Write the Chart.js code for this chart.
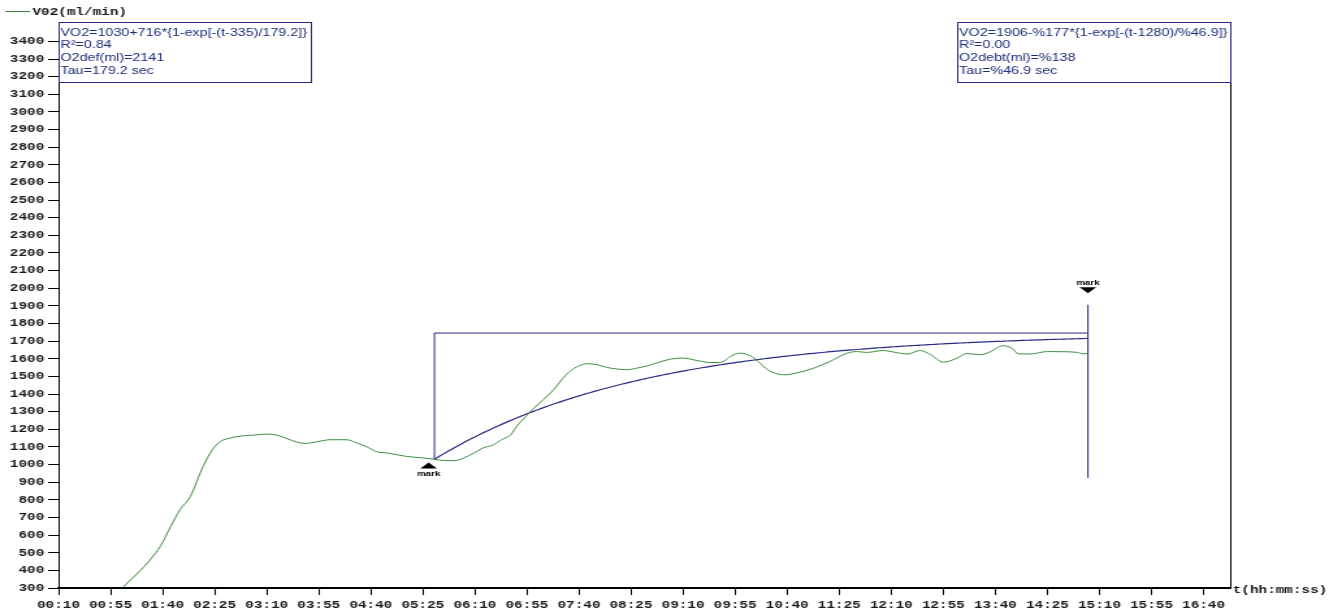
<!DOCTYPE html>
<html>
<head>
<meta charset="utf-8">
<title>VO2</title>
<script src="https://cdn.jsdelivr.net/npm/chart.js@4.4.1/dist/chart.umd.min.js"></script>
<style>
    html, body { margin: 0; padding: 0; background: #fff; overflow: hidden; }
    /* the plot is drawn narrow and stretched sideways, like the analyser export */
    #wrap { width: 1032px; height: 613px; transform: scaleX(1.30039); transform-origin: 0 0; }
    canvas { display: block; }
</style>
</head>
<body>
<div id="wrap"><canvas id="vo2Chart" width="1032" height="613" style="width:1032px;height:613px"></canvas></div>
<script>
/**
 * VO2 kinetics plot - breath data with mono-exponential on-fit
 */

// measured VO2, time in seconds from start
const timeSec = [60, 66, 84, 98, 107, 115, 124, 135, 143, 150, 158, 169, 179, 190, 199, 208, 216, 223, 233, 245,
    259, 268, 277, 285, 295, 311, 323, 335, 343, 352, 360, 369, 377, 386, 393, 401, 406, 414, 421, 429,
    438, 445, 452, 460, 467, 476, 484, 493, 501, 510, 519, 527, 539, 550, 562, 573, 582, 592, 599, 608,
    615, 623, 637, 648, 663, 677, 692, 700, 709, 723, 732, 744, 755, 764, 775, 787, 795, 807, 816, 826,
    834, 840, 850, 865, 879, 891, 896, 900];
const vo2 = [266, 306, 422, 536, 649, 744, 819, 989, 1084, 1131, 1150, 1163, 1167, 1173, 1167, 1146, 1128, 1120, 1129, 1141,
    1141, 1122, 1099, 1073, 1065, 1046, 1039, 1030, 1023, 1022, 1037, 1065, 1094, 1112, 1141, 1169, 1216, 1273, 1320, 1367,
    1424, 1481, 1528, 1560, 1572, 1566, 1551, 1542, 1538, 1547, 1560, 1576, 1598, 1604, 1590, 1579, 1579, 1617, 1632, 1617,
    1585, 1538, 1509, 1519, 1547, 1585, 1632, 1641, 1636, 1647, 1638, 1627, 1647, 1623, 1581, 1604, 1630, 1623, 1641, 1674,
    1661, 1628, 1627, 1641, 1640, 1636, 1627, 1632];

// on-fit parameters: VO2 = base + amp * (1 - exp(-(t - start) / tau))
const fitBase = 1030;
const fitAmp = 716;
const fitStart = 335;
const fitTau = 179.2;
const fitEnd = 900;

// off-fit marker line at the end of the window
const offLineLow = 924;
const offLineHigh = 1906;

// "mark" events
const markTimes = [330, 900];
const markValues = [1012, 1972];
const markDirs = ['up', 'down'];

// axes
const xMin = 10;
const xMax = 1023;
const yMin = 300;
const yMax = 3510;
const xTickLabels = ['00:10', '00:55', '01:40', '02:25', '03:10', '03:55', '04:40', '05:25', '06:10', '06:55', '07:40', '08:25',
    '09:10', '09:55', '10:40', '11:25', '12:10', '12:55', '13:40', '14:25', '15:10', '15:55', '16:40'];
const yTicks = [300, 400, 500, 600, 700, 800, 900, 1000, 1100, 1200, 1300, 1400, 1500, 1600, 1700, 1800, 1900, 2000,
    2100, 2200, 2300, 2400, 2500, 2600, 2700, 2800, 2900, 3000, 3100, 3200, 3300, 3400];

// fit result text
const onFitLines = ['VO2=1030+716*{1-exp[-(t-335)/179.2]}', 'R\u00b2=0.84', 'O2def(ml)=2141', 'Tau=179.2 sec'];
const offFitLines = ['VO2=1906-%177*{1-exp[-(t-1280)/%46.9]}', 'R\u00b2=0.00', 'O2debt(ml)=%138', 'Tau=%46.9 sec'];

const GREEN = '#3c8c3c';
const NAVY = '#2a2a86';
const TEXT_BLUE = '#1f2a7a';
const MONO = '"Liberation Mono", "DejaVu Sans Mono", monospace';
const SANS = '"Liberation Sans", Arial, sans-serif';

const toSec = s => { const p = s.split(':'); return (+p[0]) * 60 + (+p[1]); };
const xTickSec = xTickLabels.map(toSec);

const measured = timeSec.map((t, i) => ({ x: t, y: vo2[i] }));

// model curve from the fitted parameters
const fitCurve = [];
for (let t = fitStart; t <= fitEnd; t += 5) {
    fitCurve.push({ x: t, y: fitBase + fitAmp * (1 - Math.exp(-(t - fitStart) / fitTau)) });
}

const fitFrame = [
    { x: fitStart, y: fitBase },
    { x: fitStart, y: fitBase + fitAmp },
    { x: fitEnd, y: fitBase + fitAmp }
];
const offLine = [{ x: fitEnd, y: offLineLow }, { x: fitEnd, y: offLineHigh }];

function drawBox(ctx, left, top, width, lines) {
    ctx.fillStyle = '#fff';
    ctx.fillRect(left, top, width, 60);
    ctx.strokeStyle = NAVY;
    ctx.lineWidth = 1;
    ctx.strokeRect(Math.round(left) + 0.5, Math.round(top) + 0.5, Math.round(width), 60);
    ctx.fillStyle = TEXT_BLUE;
    ctx.font = `11px ${SANS}`;
    ctx.textAlign = 'left';
    ctx.textBaseline = 'alphabetic';
    lines.forEach((txt, i) => ctx.fillText(txt, left + 1.5, top + 13.5 + i * 12.8));
}

const overlay = {
    id: 'overlay',
    afterDraw(chart) {
        const { ctx, chartArea: a, scales } = chart;
        const x = scales.x, y = scales.y;
        ctx.save();

        // right frame
        const rx = Math.round(a.right) + 0.5;
        ctx.strokeStyle = '#000';
        ctx.lineWidth = 1;
        ctx.beginPath();
        ctx.moveTo(rx, a.top);
        ctx.lineTo(rx, a.bottom);
        ctx.stroke();

        // legend
        ctx.strokeStyle = GREEN;
        ctx.beginPath();
        ctx.moveTo(4, 11.5);
        ctx.lineTo(23, 11.5);
        ctx.stroke();
        ctx.fillStyle = '#1a1a1a';
        ctx.font = `bold 11px ${MONO}`;
        ctx.textAlign = 'left';
        ctx.textBaseline = 'middle';
        ctx.fillText('V02(ml/min)', 25, 12);

        // axis title
        ctx.fillText('t(hh:mm:ss)', a.right + 2, a.bottom + 2);

        // fit result boxes
        drawBox(ctx, a.left, a.top, 193.5, onFitLines);
        drawBox(ctx, a.right - 210, a.top, 210, offFitLines);

        // event marks
        markTimes.forEach((t, i) => {
            const px = x.getPixelForValue(t);
            const py = y.getPixelForValue(markValues[i]);
            const d = markDirs[i] === 'up' ? 1 : -1;
            ctx.fillStyle = '#000';
            ctx.beginPath();
            ctx.moveTo(px, py);
            ctx.lineTo(px - 6.4, py + 6 * d);
            ctx.lineTo(px + 6.4, py + 6 * d);
            ctx.closePath();
            ctx.fill();
            ctx.font = `bold 7.5px ${SANS}`;
            ctx.textAlign = 'center';
            ctx.textBaseline = 'middle';
            ctx.fillText('mark', px, py + (d > 0 ? 11.6 : -10.6));
        });

        ctx.restore();
    }
};

const tickFont = { family: MONO, size: 11, weight: 'bold' };

new Chart(document.getElementById('vo2Chart'), {
    type: 'line',
    data: {
        datasets: [
            {
                label: 'V02(ml/min)',
                data: measured,
                borderColor: GREEN,
                borderWidth: 1,
                pointRadius: 0,
                cubicInterpolationMode: 'monotone',
                fill: false
            },
            {
                label: 'fit',
                data: fitCurve,
                borderColor: NAVY,
                borderWidth: 1.2,
                pointRadius: 0,
                tension: 0.2,
                fill: false
            },
            {
                label: 'window',
                data: fitFrame,
                borderColor: NAVY,
                borderWidth: 1,
                pointRadius: 0,
                tension: 0,
                fill: false
            },
            {
                label: 'off',
                data: offLine,
                borderColor: NAVY,
                borderWidth: 1,
                pointRadius: 0,
                tension: 0,
                fill: false
            }
        ]
    },
    options: {
        responsive: false,
        animation: false,
        layout: { padding: { top: 22, right: 86, left: 0, bottom: 0 } },
        plugins: {
            legend: { display: false },
            tooltip: { enabled: false }
        },
        scales: {
            x: {
                type: 'linear',
                min: xMin,
                max: xMax,
                afterBuildTicks: s => { s.ticks = xTickSec.map(v => ({ value: v })); },
                afterFit: s => { s.height = 25; },
                ticks: {
                    autoSkip: false,
                    maxRotation: 0,
                    padding: 4,
                    color: '#1a1a1a',
                    font: tickFont,
                    callback: (v, i) => xTickLabels[i]
                },
                grid: { display: true, drawOnChartArea: false, drawTicks: true, tickLength: 7, color: '#000' },
                border: { display: true, color: '#000', width: 2 }
            },
            y: {
                type: 'linear',
                min: yMin,
                max: yMax,
                afterBuildTicks: s => { s.ticks = yTicks.map(v => ({ value: v })); },
                afterFit: s => { s.width = 45; },
                ticks: {
                    autoSkip: false,
                    padding: 3,
                    color: '#1a1a1a',
                    font: tickFont,
                    callback: v => String(v)
                },
                grid: { display: true, drawOnChartArea: false, drawTicks: true, tickLength: 8, color: '#000' },
                border: { display: true, color: '#000', width: 1 }
            }
        }
    },
    plugins: [overlay]
});
</script>
</body>
</html>
